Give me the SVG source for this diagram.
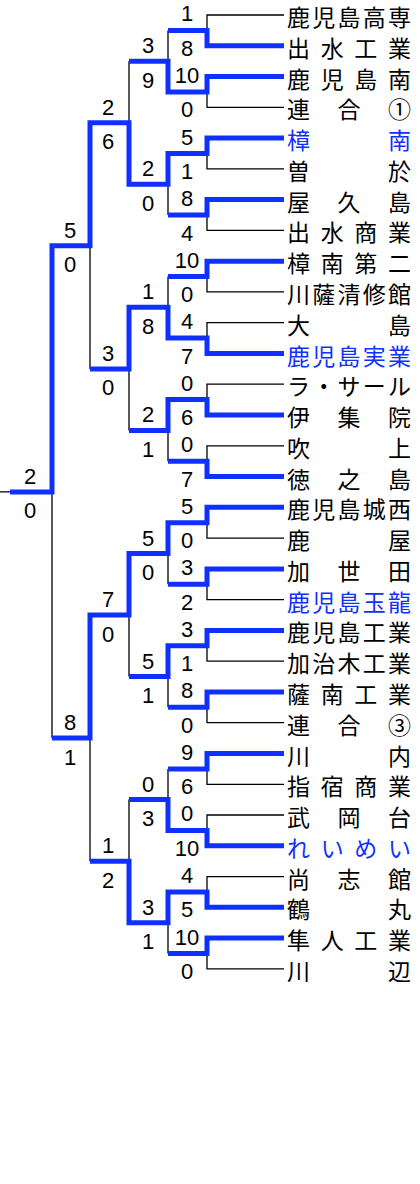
<svg xmlns="http://www.w3.org/2000/svg" width="420" height="1184" viewBox="0 0 420 1184">
<style>
.b{fill:none;stroke:#1030ff;stroke-width:5;stroke-linejoin:miter}
.k{fill:none;stroke:#000;stroke-width:1.3}
.s{font-family:"Liberation Sans",Arial,sans-serif;font-size:22px;text-anchor:middle;fill:#000}
.n{font-family:"Noto Sans CJK JP","Noto Sans CJK SC",sans-serif;font-size:23px;fill:#000}
.h{fill:#1030ff}
</style>
<rect width="420" height="1184" fill="#fff"/>
<g id="connectors">
<path class="k" d="M284,15H207V30.4M284,107.3H207V91.9M284,168.9H207V153.5M284,230.4H207V215M284,291.9H207V276.6M284,322.7H207V338.1M284,384.2H207V399.6M284,445.8H207V461.2M284,538.1H207V522.7M284,599.6H207V584.2M284,661.2H207V645.8M284,722.7H207V707.3M284,784.3H207V768.9M284,815H207V830.4M284,876.6H207V891.9M284,968.9H207V953.5"/>
<path class="k" d="M168,30.4V61.2M168,215V184.2M168,276.6V307.3M168,461.2V430.4M168,584.2V553.5M168,707.3V676.6M168,768.9V799.6M168,953.5V922.7"/>
<path class="k" d="M129,61.2V122.7M129,430.4V368.9M129,676.6V615M129,799.6V861.2"/>
<path class="k" d="M90,368.9V245.8M90,861.2V738.1M52,738.1V491.9M10,491.9H0"/>
<path class="b" d="M284,45.8H207V30.4H168"/>
<path class="b" d="M284,76.5H207V91.9H168V61.2H129"/>
<path class="b" d="M284,138.1H207V153.5H168V184.2H129V122.7H90V245.8H52V491.9H10"/>
<path class="b" d="M284,199.6H207V215H168"/>
<path class="b" d="M284,261.2H207V276.6H168"/>
<path class="b" d="M284,353.5H207V338.1H168V307.3H129V368.9H90"/>
<path class="b" d="M284,415H207V399.6H168V430.4H129"/>
<path class="b" d="M284,476.6H207V461.2H168"/>
<path class="b" d="M284,507.3H207V522.7H168V553.5H129V615H90V738.1H52"/>
<path class="b" d="M284,568.9H207V584.2H168"/>
<path class="b" d="M284,630.4H207V645.8H168V676.6H129"/>
<path class="b" d="M284,692H207V707.3H168"/>
<path class="b" d="M284,753.5H207V768.9H168"/>
<path class="b" d="M284,845.8H207V830.4H168V799.6H129"/>
<path class="b" d="M284,907.3H207V891.9H168V922.7H129V861.2H90"/>
<path class="b" d="M284,938.1H207V953.5H168"/>
</g>
<g id="scores" class="s">
<text x="187" y="21.4">1</text><text x="187" y="55.9">8</text>
<text x="187" y="82.9">10</text><text x="187" y="117.4">0</text>
<text x="187" y="144.5">5</text><text x="187" y="179">1</text>
<text x="187" y="206">8</text><text x="187" y="240.5">4</text>
<text x="187" y="267.6">10</text><text x="187" y="302.1">0</text>
<text x="187" y="329.1">4</text><text x="187" y="363.6">7</text>
<text x="187" y="390.6">0</text><text x="187" y="425.1">6</text>
<text x="187" y="452.2">0</text><text x="187" y="486.7">7</text>
<text x="187" y="513.7">5</text><text x="187" y="548.2">0</text>
<text x="187" y="575.2">3</text><text x="187" y="609.7">2</text>
<text x="187" y="636.8">3</text><text x="187" y="671.3">1</text>
<text x="187" y="698.3">8</text><text x="187" y="732.8">0</text>
<text x="187" y="759.9">9</text><text x="187" y="794.4">6</text>
<text x="187" y="821.4">0</text><text x="187" y="855.9">10</text>
<text x="187" y="882.9">4</text><text x="187" y="917.4">5</text>
<text x="187" y="944.5">10</text><text x="187" y="979">0</text>
<text x="148" y="53.2">3</text><text x="148" y="87.7">9</text>
<text x="148" y="176.2">2</text><text x="148" y="210.7">0</text>
<text x="148" y="299.3">1</text><text x="148" y="333.8">8</text>
<text x="148" y="422.4">2</text><text x="148" y="456.9">1</text>
<text x="148" y="545.5">5</text><text x="148" y="580">0</text>
<text x="148" y="668.6">5</text><text x="148" y="703.1">1</text>
<text x="148" y="791.6">0</text><text x="148" y="826.1">3</text>
<text x="148" y="914.7">3</text><text x="148" y="949.2">1</text>
<text x="108" y="114.7">2</text><text x="108" y="149.2">6</text>
<text x="108" y="360.9">3</text><text x="108" y="395.4">0</text>
<text x="108" y="607">7</text><text x="108" y="641.5">0</text>
<text x="108" y="853.2">1</text><text x="108" y="887.7">2</text>
<text x="70" y="237.8">5</text><text x="70" y="272.3">0</text>
<text x="70" y="730.1">8</text><text x="70" y="764.6">1</text>
<text x="30" y="483.9">2</text><text x="30" y="518.4">0</text>
</g>
<g id="t00"><text class="n" x="287 312.25 337.5 362.75 388" y="26">鹿児島高専</text></g>
<g id="t01"><text class="n" x="287 320.7 354.3 388" y="56.8">出水工業</text></g>
<g id="t02"><text class="n" x="287 320.7 354.3 388" y="87.5">鹿児島南</text></g>
<g id="t03"><text class="n" x="287 337.5 388" y="118.3">連合①</text></g>
<g id="t04"><text class="n h" x="287 388" y="149.1">樟南</text></g>
<g id="t05"><text class="n" x="287 388" y="179.9">曽於</text></g>
<g id="t06"><text class="n" x="287 337.5 388" y="210.6">屋久島</text></g>
<g id="t07"><text class="n" x="287 320.7 354.3 388" y="241.4">出水商業</text></g>
<g id="t08"><text class="n" x="287 320.7 354.3 388" y="272.2">樟南第二</text></g>
<g id="t09"><text class="n" x="287 312.25 337.5 362.75 388" y="302.9">川薩清修館</text></g>
<g id="t10"><text class="n" x="287 388" y="333.7">大島</text></g>
<g id="t11"><text class="n h" x="287 312.25 337.5 362.75 388" y="364.5">鹿児島実業</text></g>
<g id="t12"><text class="n" x="287 312.25 337.5 362.75 388" y="395.2">ラ・サール</text></g>
<g id="t13"><text class="n" x="287 337.5 388" y="426">伊集院</text></g>
<g id="t14"><text class="n" x="287 388" y="456.8">吹上</text></g>
<g id="t15"><text class="n" x="287 337.5 388" y="487.6">徳之島</text></g>
<g id="t16"><text class="n" x="287 312.25 337.5 362.75 388" y="518.3">鹿児島城西</text></g>
<g id="t17"><text class="n" x="287 388" y="549.1">鹿屋</text></g>
<g id="t18"><text class="n" x="287 337.5 388" y="579.9">加世田</text></g>
<g id="t19"><text class="n h" x="287 312.25 337.5 362.75 388" y="610.6">鹿児島玉龍</text></g>
<g id="t20"><text class="n" x="287 312.25 337.5 362.75 388" y="641.4">鹿児島工業</text></g>
<g id="t21"><text class="n" x="287 312.25 337.5 362.75 388" y="672.2">加治木工業</text></g>
<g id="t22"><text class="n" x="287 320.7 354.3 388" y="703">薩南工業</text></g>
<g id="t23"><text class="n" x="287 337.5 388" y="733.7">連合③</text></g>
<g id="t24"><text class="n" x="287 388" y="764.5">川内</text></g>
<g id="t25"><text class="n" x="287 320.7 354.3 388" y="795.3">指宿商業</text></g>
<g id="t26"><text class="n" x="287 337.5 388" y="826">武岡台</text></g>
<g id="t27"><text class="n h" x="287 320.7 354.3 388" y="856.8">れいめい</text></g>
<g id="t28"><text class="n" x="287 337.5 388" y="887.6">尚志館</text></g>
<g id="t29"><text class="n" x="287 388" y="918.3">鶴丸</text></g>
<g id="t30"><text class="n" x="287 320.7 354.3 388" y="949.1">隼人工業</text></g>
<g id="t31"><text class="n" x="287 388" y="979.9">川辺</text></g>
</svg>
